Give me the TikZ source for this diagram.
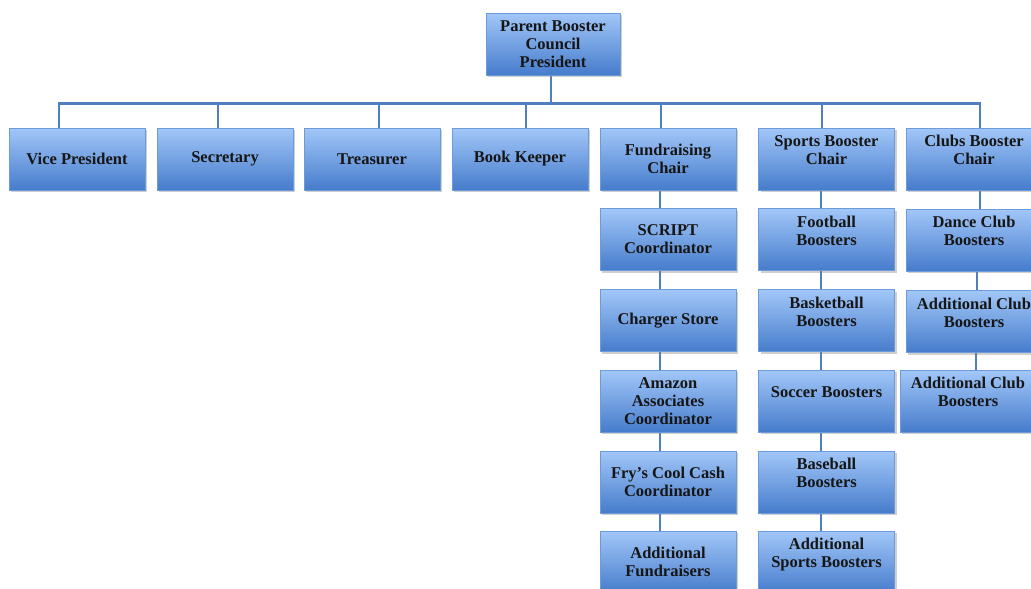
\documentclass[tikz,border=0pt]{standalone}
\usepackage{fontspec}
\setmainfont{Liberation Serif}
\usetikzlibrary{shadows,backgrounds}
\definecolor{boxtop}{HTML}{A2C7F8}
\definecolor{boxbot}{HTML}{467CCC}
\definecolor{boxline}{HTML}{6C9BD9}
\definecolor{linkc}{HTML}{4F7FC0}
\definecolor{boxtext}{HTML}{161616}
\newcommand{\upline}{\\\mbox{}}
\tikzset{
  orgbox/.style={draw=boxline,line width=0.8pt,top color=boxtop,bottom color=boxbot,
    minimum width=136pt,minimum height=62pt,inner sep=2pt,text=boxtext,
    font=\fontsize{16.5}{18}\selectfont\bfseries,align=center,
    drop shadow={opacity=0.38,shadow xshift=2pt,shadow yshift=-2pt}},
  link/.style={draw=linkc,line width=2.6pt}
}
\begin{document}
\begin{tikzpicture}[x=1pt,y=-1pt]
  \useasboundingbox (0,0) rectangle (1031,589);
  \node[orgbox,minimum width=134pt] (pres) at (553,44) {Parent Booster\\Council\\President};
  % first row
  \node[orgbox] (vp) at (77,159) {Vice President};
  \node[orgbox] (sec) at (225,159) {Secretary};
  \node[orgbox] (tre) at (372,159) {Treasurer};
  \node[orgbox] (bk) at (520,159) {Book Keeper};
  \node[orgbox] (fund) at (668,159) {Fundraising\\Chair};
  \node[orgbox] (sport) at (826.5,159) {Sports Booster\\Chair\upline};
  \node[orgbox] (club) at (974,159) {Clubs Booster\\Chair\upline};
  % fundraising column
  \node[orgbox] (script) at (668,239.5) {SCRIPT\\Coordinator};
  \node[orgbox] (store) at (668,320.5) {Charger Store};
  \node[orgbox] (amazon) at (668,401) {Amazon\\Associates\\Coordinator};
  \node[orgbox] (frys) at (668,482) {Fry's Cool Cash\\Coordinator};
  \node[orgbox] (addfund) at (668,562) {Additional\\Fundraisers};
  % sports column
  \node[orgbox] (foot) at (826.5,239.5) {Football\\Boosters\upline};
  \node[orgbox] (basket) at (826.5,320.5) {Basketball\\Boosters\upline};
  \node[orgbox] (soccer) at (826.5,401) {Soccer Boosters\upline};
  \node[orgbox] (base) at (826.5,482) {Baseball\\Boosters\upline};
  \node[orgbox] (addsport) at (826.5,562) {Additional\\Sports Boosters\upline};
  % clubs column
  \node[orgbox] (dance) at (974,240) {Dance Club\\Boosters\upline};
  \node[orgbox] (addclubA) at (974,321.5) {Additional Club\\Boosters\upline};
  \node[orgbox] (addclubB) at (968,401) {Additional Club\\Boosters\upline};
  % connectors behind the boxes
  \begin{scope}[on background layer]
    \foreach \n/\dx in {vp/-18,sec/-7,tre/7,bk/6,fund/-7,sport/-4.5,club/6}
      \draw[link] ([xshift=-2pt]pres.south) -- ++(0,-28pt) -| ([xshift=\dx pt]\n.north);
    \foreach \a/\b in {fund/script,script/store,store/amazon,amazon/frys,frys/addfund}
      \draw[link] ([xshift=-8pt]\a.south) -- ([xshift=-8pt]\b.north);
    \foreach \a/\b in {sport/foot,foot/basket,basket/soccer,soccer/base,base/addsport}
      \draw[link] ([xshift=-5.5pt]\a.south) -- ([xshift=-5.5pt]\b.north);
    \draw[link] ([xshift=6pt]club.south) -- ([xshift=6pt]dance.north);
    \draw[link] ([xshift=3pt]dance.south) -- ([xshift=3pt]addclubA.north);
    \draw[link] ([xshift=8pt]addclubB.north |- addclubA.south) -- ([xshift=8pt]addclubB.north);
  \end{scope}
\end{tikzpicture}
\end{document}
